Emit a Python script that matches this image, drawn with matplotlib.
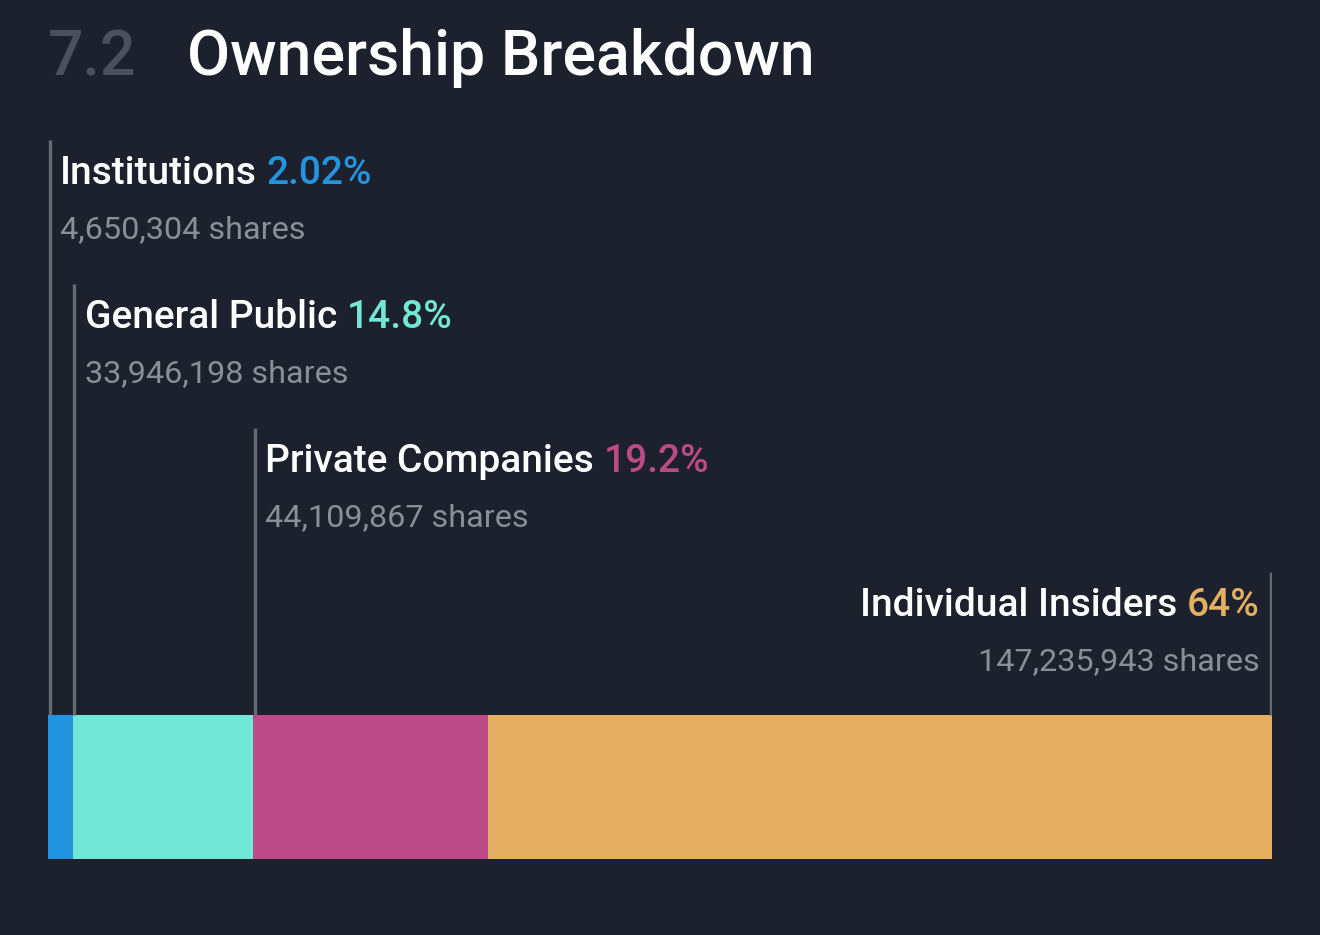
import matplotlib
matplotlib.use("Agg")
import matplotlib.pyplot as plt
import matplotlib.transforms as mtransforms
import numpy as np

# data
categories = ["Institutions", "General Public", "Private Companies", "Individual Insiders"]
shares = [4650304, 33946198, 44109867, 147235943]
pct_labels = ["2.02%", "14.8%", "19.2%", "64%"]
colors = ["#2394e0", "#71e8d6", "#bb4a86", "#e4af62"]

BG = "#1c212d"
W, H = 1320, 935

plt.rcParams['font.family'] = ['Roboto', 'DejaVu Sans']

fig = plt.figure(figsize=(W / 100, H / 100), dpi=100, facecolor=BG)

# title
fig.text(48 / W, 1 - 75 / H, "7.2", color="#4a505c", fontsize=45,
         fontweight="medium", ha="left", va="baseline")
fig.text(187 / W, 1 - 75 / H, "Ownership Breakdown", color="white",
         fontsize=45, fontweight="medium", ha="left", va="baseline")

# axes spans the bar horizontally, full figure vertically (y in pixels)
ax = fig.add_axes([48 / W, 0, 1224 / W, 1])
ax.set_facecolor(BG)
ax.axis("off")
total = sum(shares)
ax.set_xlim(0, total)
ax.set_ylim(H, 0)

bar_top, bar_h = 715, 144
lefts = np.concatenate([[0], np.cumsum(shares)[:-1]])
ax.barh(bar_top + bar_h / 2, shares, left=lefts, height=bar_h,
        color=colors, linewidth=0)

line_top0, step = 140, 144
n = len(categories)
for i in range(n):
    top = line_top0 + i * step
    last = (i == n - 1)
    xpos = total if last else lefts[i]
    dx = -1.5 if last else 1.5
    tr = mtransforms.offset_copy(ax.transData, fig=fig, x=dx, y=0, units='dots')
    ax.vlines(xpos, top, bar_top, colors="#666a73", linewidth=2.4, transform=tr)

    base1 = top + 44
    base2 = top + 98
    if not last:
        t = ax.annotate(categories[i], xy=(xpos, base1), xytext=(8.6, 0),
                        textcoords="offset points", color="white", fontsize=28,
                        fontweight="medium", ha="left", va="baseline")
        ax.annotate(pct_labels[i], xy=(1, 0), xycoords=t, xytext=(7, 0),
                    textcoords="offset points", color=colors[i], fontsize=28,
                    fontweight="medium", ha="left", va="bottom")
        ax.annotate(f"{shares[i]:,} shares", xy=(xpos, base2), xytext=(8.6, 0),
                    textcoords="offset points", color="#8a8e97", fontsize=23.3,
                    ha="left", va="baseline")
    else:
        t = ax.annotate(pct_labels[i], xy=(xpos, base1), xytext=(-9, 0),
                        textcoords="offset points", color=colors[i], fontsize=28,
                        fontweight="medium", ha="right", va="baseline")
        ax.annotate(categories[i], xy=(0, 0), xycoords=t, xytext=(-7, 0),
                    textcoords="offset points", color="white", fontsize=28,
                    fontweight="medium", ha="right", va="bottom")
        ax.annotate(f"{shares[i]:,} shares", xy=(xpos, base2), xytext=(-9, 0),
                    textcoords="offset points", color="#8a8e97", fontsize=23.3,
                    ha="right", va="baseline")

fig.savefig("out.png", dpi=100, facecolor=BG)
